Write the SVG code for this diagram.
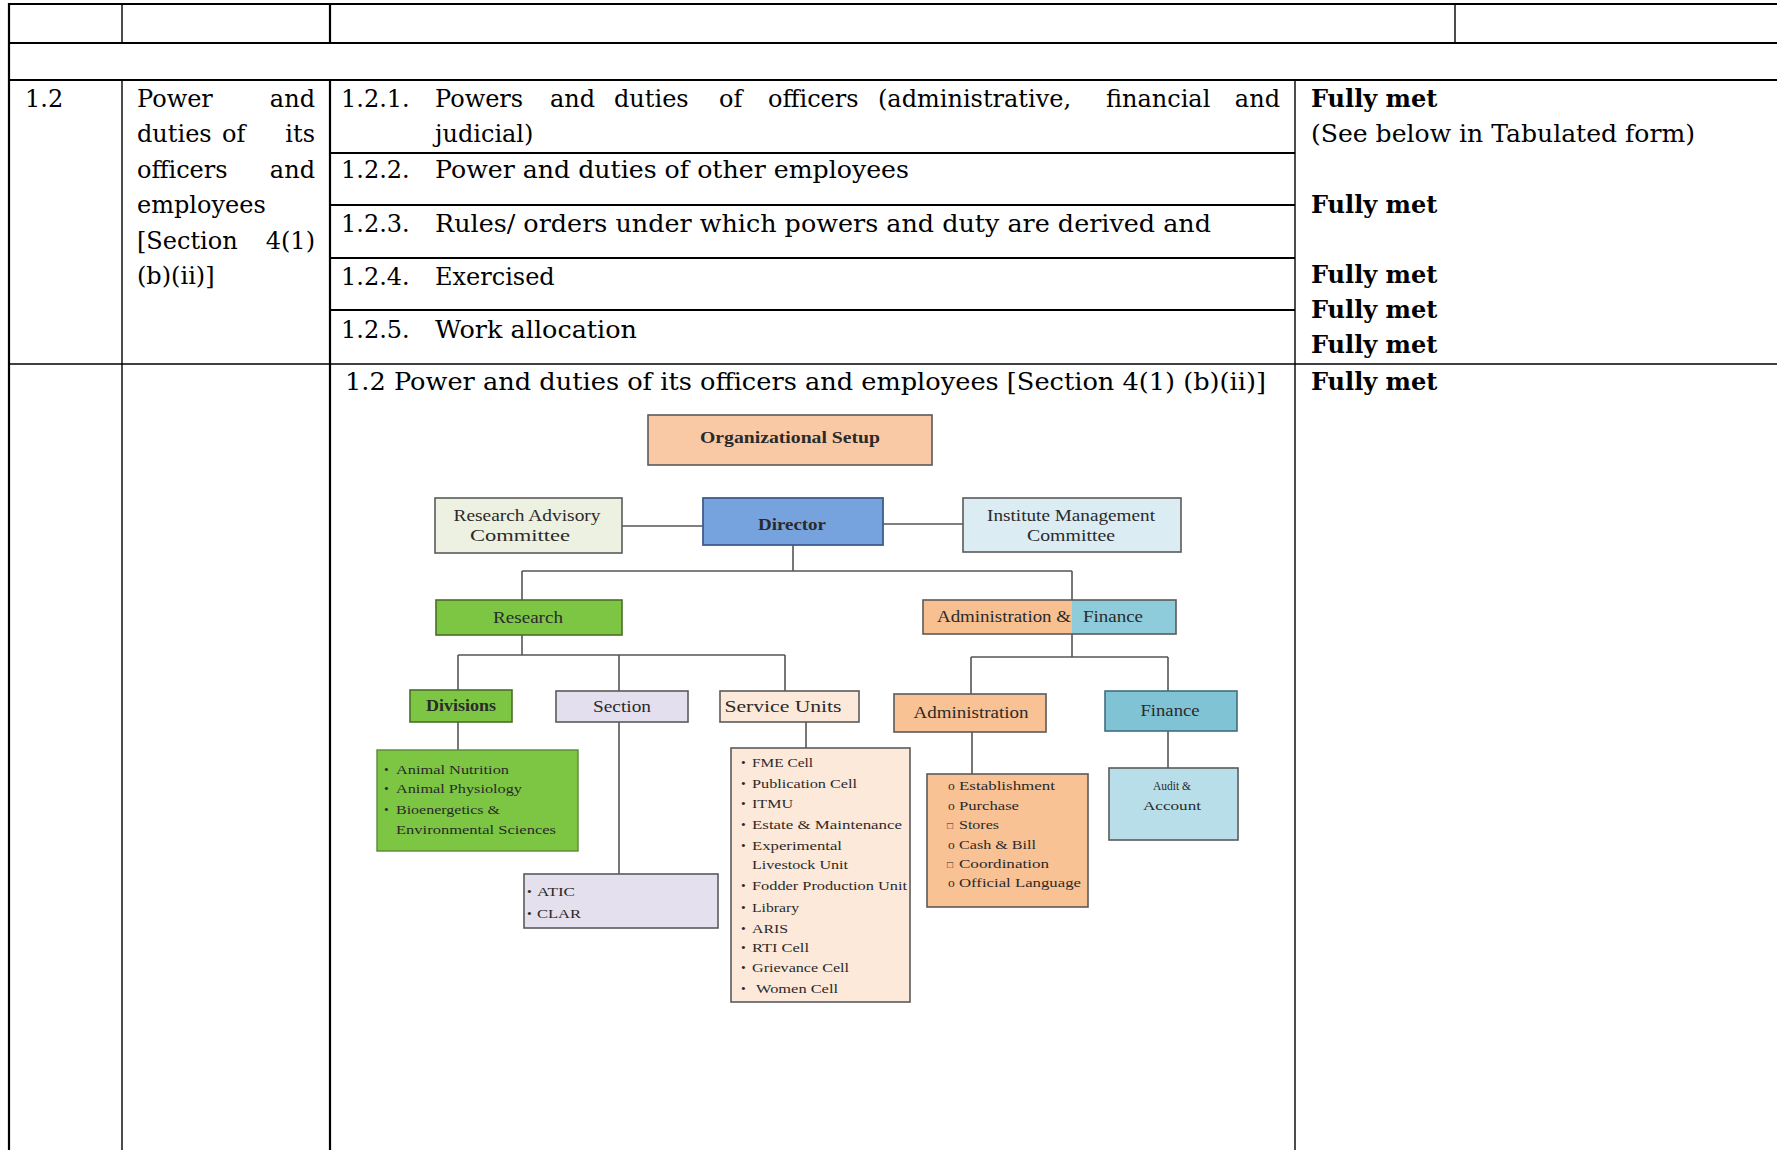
<svg xmlns="http://www.w3.org/2000/svg" width="1777" height="1150" viewBox="0 0 1777 1150">
<style>
.t{font-family:"DejaVu Serif",serif;font-size:24px;fill:#000}
.b{font-weight:bold}
.e{text-anchor:end}
.grid line{stroke:#000}
.k{stroke-width:2.2}
.n{stroke-width:1.4}
.box{stroke:#5a5a5a;stroke-width:1.6}
.o{font-family:"Liberation Serif","Times New Roman",serif;fill:#2a2a2a}
.h{font-size:16px;text-anchor:middle}
.li{font-size:13.5px}
.con line{stroke:#555;stroke-width:1.6}
</style>
<rect width="1777" height="1150" fill="#fff"/>

<g id="table-grid" class="grid">
  <line class="k" x1="9" y1="4" x2="1777" y2="4"/>
  <line class="k" x1="9" y1="43" x2="1777" y2="43"/>
  <line class="k" x1="9" y1="80" x2="1777" y2="80"/>
  <line class="k" x1="330" y1="153" x2="1295" y2="153"/>
  <line class="k" x1="330" y1="205" x2="1295" y2="205"/>
  <line class="k" x1="330" y1="258" x2="1295" y2="258"/>
  <line class="k" x1="330" y1="310" x2="1295" y2="310"/>
  <line class="n" x1="9" y1="364" x2="1777" y2="364"/>
  <line class="k" x1="9" y1="3" x2="9" y2="1150"/>
  <line class="n" x1="122" y1="4" x2="122" y2="43"/>
  <line class="n" x1="122" y1="80" x2="122" y2="1150"/>
  <line class="k" x1="330" y1="4" x2="330" y2="43"/>
  <line class="k" x1="330" y1="80" x2="330" y2="1150"/>
  <line class="n" x1="1455" y1="4" x2="1455" y2="43"/>
  <line class="n" x1="1295" y1="80" x2="1295" y2="1150"/>
</g>

<g id="cell-number">
  <text class="t" x="25" y="107">1.2</text>
</g>

<g id="cell-title">
  <text class="t" x="137" y="107">Power</text>
  <text class="t e" x="315" y="107">and</text>
  <text class="t" x="137" y="142">duties</text>
  <text class="t" x="222" y="142">of</text>
  <text class="t e" x="315" y="142">its</text>
  <text class="t" x="137" y="178">officers</text>
  <text class="t e" x="315" y="178">and</text>
  <text class="t" x="137" y="213">employees</text>
  <text class="t" x="137" y="249">[Section</text>
  <text class="t e" x="315" y="249">4(1)</text>
  <text class="t" x="137" y="284">(b)(ii)]</text>
</g>

<g id="cell-items">
  <text class="t" x="341" y="107">1.2.1.</text>
  <text class="t" y="107"><tspan x="435">Powers</tspan><tspan x="550">and</tspan><tspan x="614">duties</tspan><tspan x="719">of</tspan><tspan x="768">officers</tspan><tspan x="878">(administrative,</tspan><tspan x="1106">financial</tspan></text>
  <text class="t e" x="1280" y="107">and</text>
  <text class="t" x="435" y="142">judicial)</text>
  <text class="t" x="341" y="178">1.2.2.</text>
  <text class="t" x="435" y="178" textLength="474" lengthAdjust="spacingAndGlyphs">Power and duties of other employees</text>
  <text class="t" x="341" y="232">1.2.3.</text>
  <text class="t" x="435" y="232" textLength="776" lengthAdjust="spacingAndGlyphs">Rules/ orders under which powers and duty are derived and</text>
  <text class="t" x="341" y="285">1.2.4.</text>
  <text class="t" x="435" y="285">Exercised</text>
  <text class="t" x="341" y="338">1.2.5.</text>
  <text class="t" x="435" y="338" textLength="202" lengthAdjust="spacingAndGlyphs">Work allocation</text>
</g>

<g id="cell-status">
  <text class="t b" x="1311" y="107">Fully met</text>
  <text class="t" x="1311" y="142" textLength="384" lengthAdjust="spacingAndGlyphs">(See below in Tabulated form)</text>
  <text class="t b" x="1311" y="213">Fully met</text>
  <text class="t b" x="1311" y="283">Fully met</text>
  <text class="t b" x="1311" y="318">Fully met</text>
  <text class="t b" x="1311" y="353">Fully met</text>
</g>

<g id="row-chart-heading">
  <text class="t" x="345" y="390" textLength="921" lengthAdjust="spacingAndGlyphs">1.2 Power and duties of its officers and employees [Section 4(1) (b)(ii)]</text>
  <text class="t b" x="1311" y="390">Fully met</text>
</g>

<g id="connectors" class="con">
  <line x1="622" y1="526" x2="703" y2="526"/>
  <line x1="883" y1="524" x2="963" y2="524"/>
  <line x1="793" y1="545" x2="793" y2="571"/>
  <line x1="522" y1="571" x2="1072" y2="571"/>
  <line x1="522" y1="571" x2="522" y2="600"/>
  <line x1="1072" y1="571" x2="1072" y2="600"/>
  <line x1="522" y1="635" x2="522" y2="655"/>
  <line x1="458" y1="655" x2="785" y2="655"/>
  <line x1="458" y1="655" x2="458" y2="690"/>
  <line x1="619" y1="655" x2="619" y2="691"/>
  <line x1="785" y1="655" x2="785" y2="691"/>
  <line x1="1072" y1="634" x2="1072" y2="657"/>
  <line x1="971" y1="657" x2="1168" y2="657"/>
  <line x1="971" y1="657" x2="971" y2="694"/>
  <line x1="1168" y1="657" x2="1168" y2="691"/>
  <line x1="458" y1="722" x2="458" y2="750"/>
  <line x1="619" y1="722" x2="619" y2="874"/>
  <line x1="806" y1="722" x2="806" y2="748"/>
  <line x1="972" y1="732" x2="972" y2="774"/>
  <line x1="1168" y1="731" x2="1168" y2="768"/>
</g>

<g id="org-setup">
  <rect class="box" x="648" y="415" width="284" height="50" fill="#f9c9a6"/>
  <text class="o h b" x="790" y="443" textLength="180" lengthAdjust="spacingAndGlyphs" fill="#3a2a1a">Organizational Setup</text>
</g>
<g id="research-advisory-committee">
  <rect class="box" x="435" y="498" width="187" height="55" fill="#edf1e1"/>
  <text class="o h" x="527" y="521" textLength="147" lengthAdjust="spacingAndGlyphs">Research Advisory</text>
  <text class="o h" x="520" y="541" textLength="100" lengthAdjust="spacingAndGlyphs">Committee</text>
</g>
<g id="director">
  <rect x="703" y="498" width="180" height="47" fill="#76a3de" stroke="#3e5c8c" stroke-width="1.8"/>
  <text class="o h b" x="792" y="530" textLength="68" lengthAdjust="spacingAndGlyphs" fill="#1b2a55">Director</text>
</g>
<g id="institute-management-committee">
  <rect class="box" x="963" y="498" width="218" height="54" fill="#dbecf3"/>
  <text class="o h" x="1071" y="521" textLength="168" lengthAdjust="spacingAndGlyphs">Institute Management</text>
  <text class="o h" x="1071" y="541" textLength="88" lengthAdjust="spacingAndGlyphs">Committee</text>
</g>
<g id="research">
  <rect x="436" y="600" width="186" height="35" fill="#7cc644" stroke="#4a6e2a" stroke-width="1.6"/>
  <text class="o h" x="528" y="623" textLength="70" lengthAdjust="spacingAndGlyphs">Research</text>
</g>
<g id="administration-finance">
  <rect x="923" y="600" width="149" height="34" fill="#f8bf91"/>
  <rect x="1072" y="600" width="104" height="34" fill="#8ecbdb"/>
  <rect class="box" x="923" y="600" width="253" height="34" fill="none"/>
  <text class="o" x="937" y="622" font-size="16" textLength="134" lengthAdjust="spacingAndGlyphs">Administration &amp;</text>
  <text class="o" x="1083" y="622" font-size="16" textLength="60" lengthAdjust="spacingAndGlyphs" fill="#1d3a4a">Finance</text>
</g>
<g id="divisions">
  <rect x="410" y="690" width="102" height="32" fill="#7cc644" stroke="#4a6e2a" stroke-width="1.6"/>
  <text class="o h b" x="461" y="711" font-size="14" textLength="70" lengthAdjust="spacingAndGlyphs">Divisions</text>
</g>
<g id="section">
  <rect class="box" x="556" y="691" width="132" height="31" fill="#e3dfee"/>
  <text class="o h" x="622" y="712" font-size="14" textLength="58" lengthAdjust="spacingAndGlyphs">Section</text>
</g>
<g id="service-units">
  <rect class="box" x="720" y="691" width="139" height="31" fill="#fde9da"/>
  <text class="o h" x="783" y="712" font-size="14" textLength="117" lengthAdjust="spacingAndGlyphs">Service Units</text>
</g>
<g id="administration">
  <rect class="box" x="894" y="694" width="152" height="38" fill="#f9c295"/>
  <text class="o h" x="971" y="718" textLength="115" lengthAdjust="spacingAndGlyphs">Administration</text>
</g>
<g id="finance">
  <rect x="1105" y="691" width="132" height="40" fill="#7fc3d5" stroke="#3f6f7d" stroke-width="1.6"/>
  <text class="o h" x="1170" y="716" font-size="14" textLength="59" lengthAdjust="spacingAndGlyphs">Finance</text>
</g>
<g id="divisions-list">
  <rect x="377" y="750" width="201" height="101" fill="#7cc644" stroke="#5a8a34" stroke-width="1.4"/>
  <g class="o li" fill="#1f3310">
    <text x="384" y="774">•</text><text x="396" y="774" textLength="113" lengthAdjust="spacingAndGlyphs">Animal Nutrition</text>
    <text x="384" y="793">•</text><text x="396" y="793" textLength="126" lengthAdjust="spacingAndGlyphs">Animal Physiology</text>
    <text x="384" y="814">•</text><text x="396" y="814" textLength="104" lengthAdjust="spacingAndGlyphs">Bioenergetics &amp;</text>
    <text x="396" y="834" textLength="160" lengthAdjust="spacingAndGlyphs">Environmental Sciences</text>
  </g>
</g>
<g id="section-list">
  <rect class="box" x="524" y="874" width="194" height="54" fill="#e4e0ee"/>
  <g class="o li">
    <text x="527" y="896">•</text><text x="537" y="896" textLength="38" lengthAdjust="spacingAndGlyphs">ATIC</text>
    <text x="527" y="918">•</text><text x="537" y="918" textLength="44" lengthAdjust="spacingAndGlyphs">CLAR</text>
  </g>
</g>
<g id="service-units-list">
  <rect class="box" x="731" y="748" width="179" height="254" fill="#fde9da"/>
  <g class="o li">
    <text x="741" y="767">•</text><text x="752" y="767" textLength="61" lengthAdjust="spacingAndGlyphs">FME Cell</text>
    <text x="741" y="788">•</text><text x="752" y="788" textLength="105" lengthAdjust="spacingAndGlyphs">Publication Cell</text>
    <text x="741" y="808">•</text><text x="752" y="808" textLength="41" lengthAdjust="spacingAndGlyphs">ITMU</text>
    <text x="741" y="829">•</text><text x="752" y="829" textLength="150" lengthAdjust="spacingAndGlyphs">Estate &amp; Maintenance</text>
    <text x="741" y="850">•</text><text x="752" y="850" textLength="90" lengthAdjust="spacingAndGlyphs">Experimental</text>
    <text x="752" y="869" textLength="96" lengthAdjust="spacingAndGlyphs">Livestock Unit</text>
    <text x="741" y="890">•</text><text x="752" y="890" textLength="155" lengthAdjust="spacingAndGlyphs">Fodder Production Unit</text>
    <text x="741" y="912">•</text><text x="752" y="912" textLength="47" lengthAdjust="spacingAndGlyphs">Library</text>
    <text x="741" y="933">•</text><text x="752" y="933" textLength="36" lengthAdjust="spacingAndGlyphs">ARIS</text>
    <text x="741" y="952">•</text><text x="752" y="952" textLength="57" lengthAdjust="spacingAndGlyphs">RTI Cell</text>
    <text x="741" y="972">•</text><text x="752" y="972" textLength="97" lengthAdjust="spacingAndGlyphs">Grievance Cell</text>
    <text x="741" y="993">•</text><text x="756" y="993" textLength="82" lengthAdjust="spacingAndGlyphs">Women Cell</text>
  </g>
</g>
<g id="administration-list">
  <rect class="box" x="927" y="774" width="161" height="133" fill="#f9c295"/>
  <g class="o li">
    <text x="948" y="790">o</text><text x="959" y="790" textLength="96" lengthAdjust="spacingAndGlyphs">Establishment</text>
    <text x="948" y="810">o</text><text x="959" y="810" textLength="60" lengthAdjust="spacingAndGlyphs">Purchase</text>
    <text x="947" y="829" font-size="10">□</text><text x="959" y="829" textLength="40" lengthAdjust="spacingAndGlyphs">Stores</text>
    <text x="948" y="849">o</text><text x="959" y="849" textLength="77" lengthAdjust="spacingAndGlyphs">Cash &amp; Bill</text>
    <text x="947" y="868" font-size="10">□</text><text x="959" y="868" textLength="90" lengthAdjust="spacingAndGlyphs">Coordination</text>
    <text x="948" y="887">o</text><text x="959" y="887" textLength="122" lengthAdjust="spacingAndGlyphs">Official Language</text>
  </g>
</g>
<g id="audit-account">
  <rect class="box" x="1109" y="768" width="129" height="72" fill="#b8dfe9"/>
  <g class="o li">
    <text x="1172" y="790" text-anchor="middle" textLength="38" lengthAdjust="spacingAndGlyphs">Audit &amp;</text>
    <text x="1172" y="810" text-anchor="middle" textLength="58" lengthAdjust="spacingAndGlyphs">Account</text>
  </g>
</g>
</svg>
